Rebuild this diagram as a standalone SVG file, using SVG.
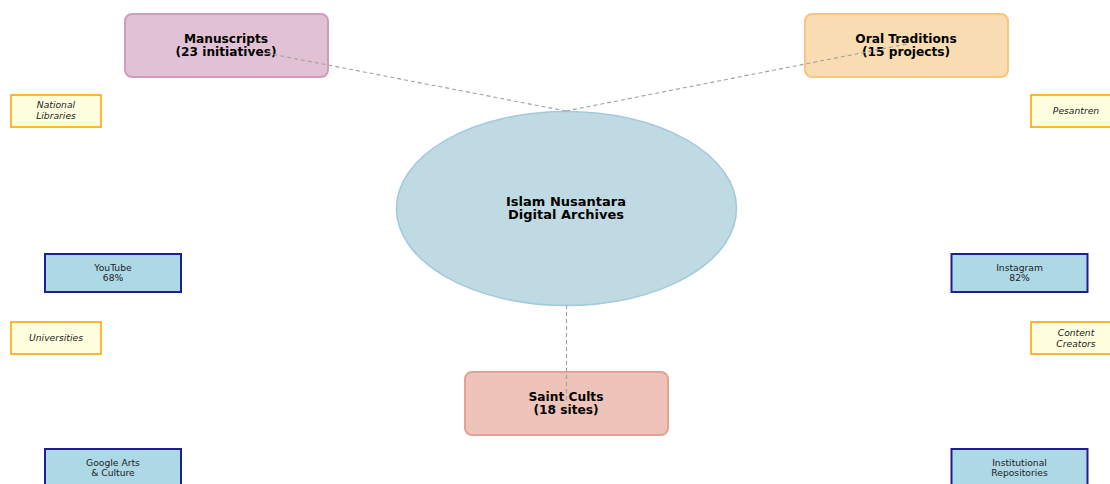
<svg xmlns="http://www.w3.org/2000/svg" width="1110" height="484" viewBox="0 0 1110 484">
<style>
.t{font-family:"DejaVu Sans",sans-serif;fill:#000;text-anchor:middle}
.big{font-size:12.2px;font-weight:bold}
.ctr{font-size:13px;font-weight:bold}
.sm{font-size:9.2px;fill:#222}
.it{font-style:italic}
.ybox{fill:#ffffe0;stroke:#ffa500;stroke-width:1.6}
.bbox{fill:#add8e6;stroke:#1f1f8f;stroke-width:2}
.conn{stroke:#a0a0a0;stroke-width:1.1;stroke-dasharray:4,3;fill:none}
</style>
<rect width="1110" height="484" fill="#ffffff"/>
<g id="center">
<ellipse cx="566.5" cy="208.5" rx="170" ry="97" fill="#c0dae4" stroke="#a3cadb" stroke-width="1.6"/>
<text class="t ctr" x="566" y="205.5">Islam Nusantara</text>
<text class="t ctr" x="566" y="218.5">Digital Archives</text>
</g>
<g id="manuscripts">
<rect x="125" y="14" width="203" height="63" rx="7" fill="#e1c2d4" stroke="#cf9cbc" stroke-width="2"/>
<text class="t big" x="226" y="43">Manuscripts</text>
<text class="t big" x="226" y="55.5">(23 initiatives)</text>
</g>
<g id="oral">
<rect x="805" y="14" width="203" height="63" rx="7" fill="#f9dcb2" stroke="#f5c783" stroke-width="2"/>
<text class="t big" x="906" y="43">Oral Traditions</text>
<text class="t big" x="906" y="55.5">(15 projects)</text>
</g>
<g id="saint">
<rect x="465" y="372" width="203" height="63" rx="7" fill="#eec3ba" stroke="#e2a393" stroke-width="2"/>
<text class="t big" x="566" y="401">Saint Cults</text>
<text class="t big" x="566" y="413.5">(18 sites)</text>
</g>
<g id="national-libraries">
<rect class="ybox" x="11" y="95" width="90" height="32"/>
<text class="t sm it" x="56" y="108">National</text>
<text class="t sm it" x="56" y="118.5">Libraries</text>
</g>
<g id="pesantren">
<rect class="ybox" x="1031" y="95" width="90" height="32"/>
<text class="t sm it" x="1076" y="114">Pesantren</text>
</g>
<g id="universities">
<rect class="ybox" x="11" y="322" width="90" height="32"/>
<text class="t sm it" x="56" y="341">Universities</text>
</g>
<g id="content-creators">
<rect class="ybox" x="1031" y="322" width="90" height="32"/>
<text class="t sm it" x="1076" y="336">Content</text>
<text class="t sm it" x="1076" y="346.5">Creators</text>
</g>
<g id="youtube">
<rect class="bbox" x="45" y="254" width="136" height="38"/>
<text class="t sm" x="113" y="271">YouTube</text>
<text class="t sm" x="113" y="281">68%</text>
</g>
<g id="instagram">
<rect class="bbox" x="951.5" y="254" width="136" height="38"/>
<text class="t sm" x="1019.5" y="271">Instagram</text>
<text class="t sm" x="1019.5" y="281">82%</text>
</g>
<g id="google-arts">
<rect class="bbox" x="45" y="449" width="136" height="40"/>
<text class="t sm" x="113" y="466">Google Arts</text>
<text class="t sm" x="113" y="476">&amp; Culture</text>
</g>
<g id="institutional">
<rect class="bbox" x="951.5" y="449" width="136" height="40"/>
<text class="t sm" x="1019.5" y="466">Institutional</text>
<text class="t sm" x="1019.5" y="476">Repositories</text>
</g>
<g id="connectors">
<line class="conn" x1="566" y1="111" x2="266" y2="53"/>
<line class="conn" x1="566" y1="111" x2="907" y2="44"/>
<line class="conn" x1="566.5" y1="305" x2="566.5" y2="402"/>
</g>
</svg>
